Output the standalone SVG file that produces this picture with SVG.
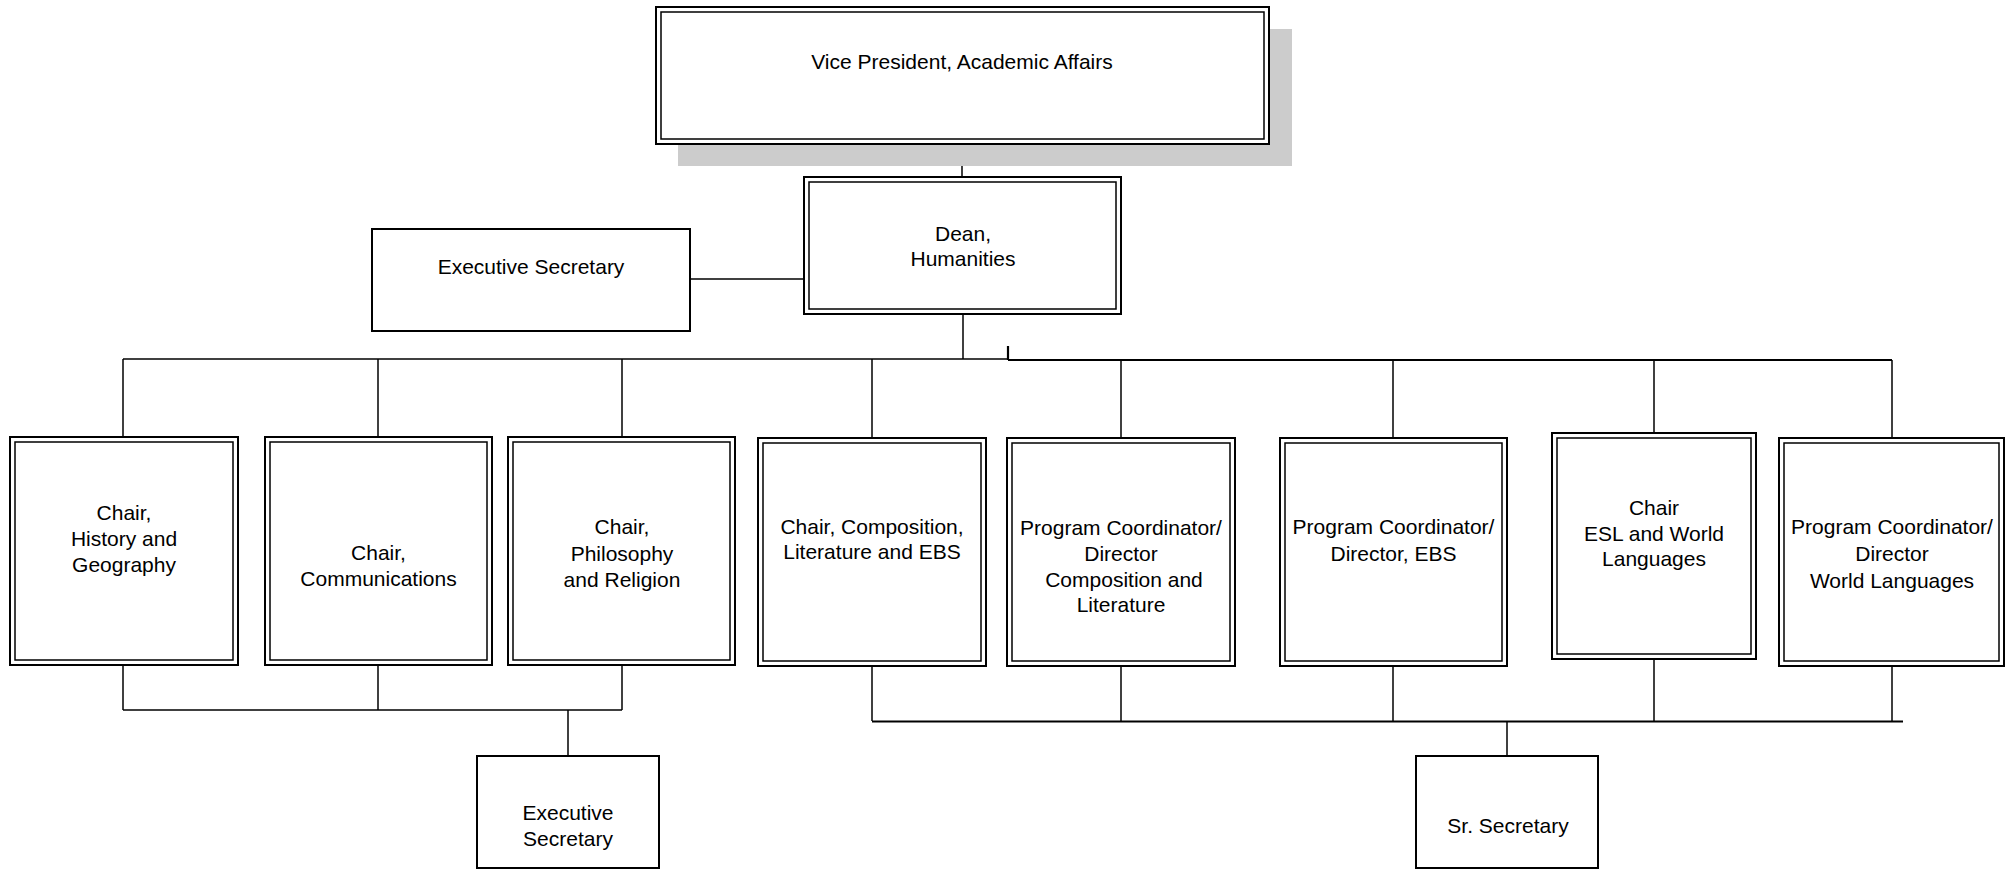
<svg xmlns="http://www.w3.org/2000/svg" width="2007" height="869" viewBox="0 0 2007 869">
<style>
.o{fill:#fff;stroke:#000;stroke-width:2}
.i{fill:none;stroke:#000;stroke-width:1.5}
.s{fill:#fff;stroke:#000;stroke-width:2}
.c{fill:none;stroke:#000;stroke-width:1.5}
.cb{fill:none;stroke:#000;stroke-width:2.2}
text{font-family:"Liberation Sans",Arial,sans-serif;font-size:21px;fill:#000;text-anchor:middle}
</style>
<rect width="2007" height="869" fill="#fff"/>
<g id="connectors">
<line class="c" x1="962" y1="144" x2="962" y2="177"/>
<line class="c" x1="690" y1="279" x2="804" y2="279"/>
<line class="c" x1="963" y1="314" x2="963" y2="359"/>
<line class="c" x1="123" y1="359" x2="1008" y2="359"/>
<line class="cb" x1="1008" y1="346" x2="1008" y2="360"/>
<line class="cb" x1="1008" y1="360" x2="1892" y2="360"/>
<line class="c" x1="123" y1="359" x2="123" y2="437"/>
<line class="c" x1="378" y1="359" x2="378" y2="437"/>
<line class="c" x1="622" y1="359" x2="622" y2="437"/>
<line class="c" x1="872" y1="359" x2="872" y2="438"/>
<line class="c" x1="1121" y1="360" x2="1121" y2="438"/>
<line class="c" x1="1393" y1="360" x2="1393" y2="438"/>
<line class="c" x1="1654" y1="360" x2="1654" y2="433"/>
<line class="c" x1="1892" y1="360" x2="1892" y2="438"/>
<line class="c" x1="123" y1="665" x2="123" y2="710"/>
<line class="c" x1="378" y1="665" x2="378" y2="710"/>
<line class="c" x1="622" y1="665" x2="622" y2="710"/>
<line class="c" x1="123" y1="710" x2="622" y2="710"/>
<line class="c" x1="568" y1="710" x2="568" y2="756"/>
<line class="c" x1="872" y1="666" x2="872" y2="721"/>
<line class="c" x1="1121" y1="666" x2="1121" y2="721"/>
<line class="c" x1="1393" y1="666" x2="1393" y2="721"/>
<line class="c" x1="1654" y1="659" x2="1654" y2="721"/>
<line class="c" x1="1892" y1="666" x2="1892" y2="721"/>
<line class="cb" x1="872" y1="721.5" x2="1903" y2="721.5"/>
<line class="c" x1="1507" y1="721" x2="1507" y2="756"/>
</g>
<g id="vp">
<rect x="678" y="29" width="614" height="137" fill="#cccccc"/>
<rect class="o" x="656" y="7" width="613" height="137"/>
<rect class="i" x="661" y="12" width="603" height="127"/>
<text x="962" y="69">Vice President, Academic Affairs</text>
</g>
<g id="dean">
<rect class="o" x="804" y="177" width="317" height="137"/>
<rect class="i" x="809" y="182" width="307" height="127"/>
<text x="963" y="241">Dean,</text>
<text x="963" y="266">Humanities</text>
</g>
<g id="exec-sec-dean">
<rect class="s" x="372" y="229" width="318" height="102"/>
<text x="531" y="274">Executive Secretary</text>
</g>
<g id="chair-history">
<rect class="o" x="10" y="437" width="228" height="228"/>
<rect class="i" x="15" y="442" width="218" height="218"/>
<text x="124" y="520">Chair,</text>
<text x="124" y="546">History and</text>
<text x="124" y="572">Geography</text>
</g>
<g id="chair-comm">
<rect class="o" x="265" y="437" width="227" height="228"/>
<rect class="i" x="270" y="442" width="217" height="218"/>
<text x="378.5" y="560">Chair,</text>
<text x="378.5" y="586">Communications</text>
</g>
<g id="chair-phil">
<rect class="o" x="508" y="437" width="227" height="228"/>
<rect class="i" x="513" y="442" width="217" height="218"/>
<text x="622" y="534">Chair,</text>
<text x="622" y="561">Philosophy</text>
<text x="622" y="587">and Religion</text>
</g>
<g id="chair-comp">
<rect class="o" x="758" y="438" width="228" height="228"/>
<rect class="i" x="763" y="443" width="218" height="218"/>
<text x="872" y="534">Chair, Composition,</text>
<text x="872" y="559">Literature and EBS</text>
</g>
<g id="coord-comp">
<rect class="o" x="1007" y="438" width="228" height="228"/>
<rect class="i" x="1012" y="443" width="218" height="218"/>
<text x="1121" y="535">Program Coordinator/</text>
<text x="1121" y="561">Director</text>
<text x="1124" y="587">Composition and</text>
<text x="1121" y="612">Literature</text>
</g>
<g id="coord-ebs">
<rect class="o" x="1280" y="438" width="227" height="228"/>
<rect class="i" x="1285" y="443" width="217" height="218"/>
<text x="1393.5" y="534">Program Coordinator/</text>
<text x="1393.5" y="561">Director, EBS</text>
</g>
<g id="chair-esl">
<rect class="o" x="1552" y="433" width="204" height="226"/>
<rect class="i" x="1557" y="438" width="194" height="216"/>
<text x="1654" y="515">Chair</text>
<text x="1654" y="541">ESL and World</text>
<text x="1654" y="566">Languages</text>
</g>
<g id="coord-wl">
<rect class="o" x="1779" y="438" width="225" height="228"/>
<rect class="i" x="1784" y="443" width="215" height="218"/>
<text x="1892" y="534">Program Coordinator/</text>
<text x="1892" y="561">Director</text>
<text x="1892" y="588">World Languages</text>
</g>
<g id="exec-sec-chairs">
<rect class="s" x="477" y="756" width="182" height="112"/>
<text x="568" y="820">Executive</text>
<text x="568" y="846">Secretary</text>
</g>
<g id="sr-sec">
<rect class="s" x="1416" y="756" width="182" height="112"/>
<text x="1508" y="833">Sr. Secretary</text>
</g>
</svg>
